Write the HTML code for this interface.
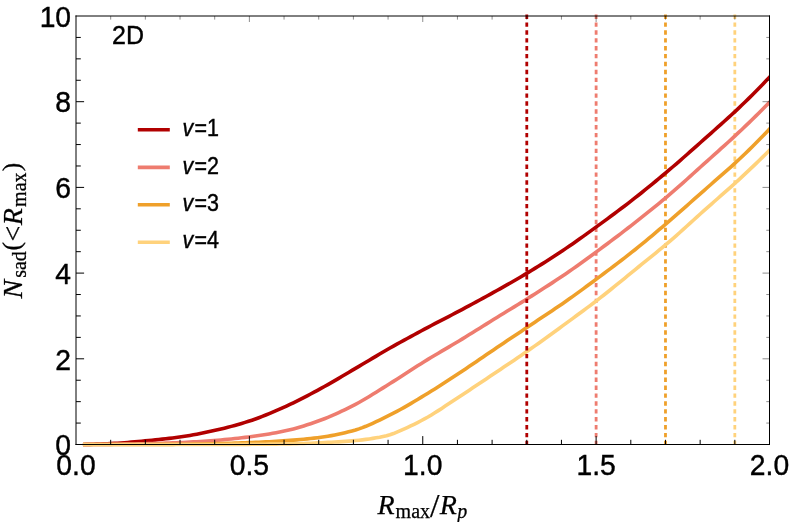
<!DOCTYPE html>
<html><head><meta charset="utf-8"><title>N_sad 2D</title>
<style>
html,body{margin:0;padding:0;background:#fff;}
body{width:789px;height:522px;overflow:hidden;}
svg{display:block;will-change:transform;}
.sans{font-family:"Liberation Sans",sans-serif;fill:#000;stroke:#000;stroke-width:0.4px;}
.serif{font-family:"Liberation Serif",serif;fill:#000;stroke:#000;stroke-width:0.25px;}
.it{font-style:italic;}
</style></head><body>
<svg width="789" height="522" viewBox="0 0 789 522">
<rect x="0" y="0" width="789" height="522" fill="#ffffff"/>
<g fill="none" stroke-width="2.8" stroke-dasharray="4.4 3.494">
<path d="M596.12,14.5 L596.12,444.50" stroke="#ee7c6f"/>
<path d="M665.48,14.5 L665.48,444.50" stroke="#efa02a"/>
<path d="M734.82,14.5 L734.82,444.50" stroke="#ffd27c"/>
</g>
<clipPath id="pa"><rect x="76.0" y="16.0" width="693.5" height="432.5"/></clipPath>
<g fill="none" stroke-width="3.6" stroke-linejoin="round" stroke-linecap="butt" clip-path="url(#pa)">
<path d="M82.94,444.47 L86.39,444.41 L89.84,444.33 L93.29,444.24 L96.74,444.13 L100.19,444.00 L103.64,443.86 L107.09,443.72 L110.54,443.56 L113.99,443.39 L117.44,443.19 L120.89,442.96 L124.34,442.70 L127.79,442.43 L131.24,442.14 L134.69,441.83 L138.14,441.52 L141.59,441.20 L145.04,440.89 L148.49,440.57 L151.94,440.23 L155.39,439.89 L158.84,439.53 L162.29,439.16 L165.74,438.78 L169.19,438.37 L172.64,437.94 L176.09,437.50 L179.54,437.03 L182.99,436.53 L186.44,435.99 L189.89,435.41 L193.34,434.80 L196.79,434.16 L200.24,433.50 L203.69,432.80 L207.14,432.09 L210.59,431.35 L214.04,430.59 L217.49,429.81 L220.94,429.01 L224.39,428.16 L227.84,427.29 L231.29,426.38 L234.74,425.43 L238.19,424.45 L241.64,423.44 L245.09,422.38 L248.54,421.30 L251.99,420.17 L255.44,418.97 L258.89,417.71 L262.34,416.39 L265.79,415.03 L269.24,413.61 L272.69,412.16 L276.14,410.67 L279.59,409.16 L283.04,407.63 L286.49,406.07 L289.94,404.47 L293.39,402.81 L296.84,401.12 L300.29,399.38 L303.74,397.61 L307.19,395.81 L310.64,393.99 L314.09,392.15 L317.54,390.30 L320.99,388.43 L324.44,386.53 L327.89,384.59 L331.34,382.61 L334.79,380.61 L338.24,378.58 L341.69,376.54 L345.14,374.50 L348.59,372.46 L352.04,370.42 L355.49,368.40 L358.94,366.36 L362.39,364.32 L365.84,362.26 L369.29,360.20 L372.74,358.14 L376.19,356.08 L379.64,354.04 L383.09,352.02 L386.54,350.01 L389.99,348.04 L393.44,346.09 L396.89,344.16 L400.34,342.25 L403.79,340.35 L407.24,338.46 L410.69,336.58 L414.14,334.72 L417.59,332.86 L421.04,331.01 L424.49,329.16 L427.94,327.33 L431.39,325.51 L434.84,323.71 L438.29,321.92 L441.74,320.13 L445.19,318.35 L448.64,316.56 L452.09,314.77 L455.54,312.96 L458.99,311.14 L462.44,309.31 L465.89,307.46 L469.34,305.62 L472.79,303.76 L476.24,301.90 L479.69,300.03 L483.14,298.15 L486.59,296.26 L490.04,294.35 L493.49,292.44 L496.94,290.51 L500.39,288.57 L503.84,286.62 L507.29,284.67 L510.74,282.70 L514.19,280.72 L517.64,278.72 L521.09,276.70 L524.54,274.66 L527.99,272.60 L531.44,270.51 L534.89,268.39 L538.34,266.26 L541.80,264.10 L545.25,261.92 L548.70,259.72 L552.15,257.49 L555.60,255.25 L559.05,252.98 L562.50,250.69 L565.95,248.37 L569.40,246.03 L572.85,243.65 L576.30,241.25 L579.75,238.82 L583.20,236.37 L586.65,233.90 L590.10,231.41 L593.55,228.91 L597.00,226.40 L600.45,223.89 L603.90,221.37 L607.35,218.83 L610.80,216.29 L614.25,213.73 L617.70,211.16 L621.15,208.56 L624.60,205.95 L628.05,203.31 L631.50,200.64 L634.95,197.95 L638.40,195.23 L641.85,192.49 L645.30,189.71 L648.75,186.91 L652.20,184.09 L655.65,181.25 L659.10,178.38 L662.55,175.50 L666.00,172.60 L669.45,169.69 L672.90,166.75 L676.35,163.78 L679.80,160.79 L683.25,157.77 L686.70,154.74 L690.15,151.69 L693.60,148.62 L697.05,145.55 L700.50,142.48 L703.95,139.41 L707.40,136.34 L710.85,133.28 L714.30,130.23 L717.75,127.17 L721.20,124.11 L724.65,121.02 L728.10,117.91 L731.55,114.77 L735.00,111.58 L738.45,108.35 L741.90,105.06 L745.35,101.72 L748.80,98.34 L752.25,94.91 L755.70,91.45 L759.15,87.94 L762.60,84.39 L766.05,80.81 L769.50,77.19 L776.44,69.92" stroke="#b10000"/>
<path d="M82.94,444.50 L86.39,444.49 L89.84,444.48 L93.29,444.46 L96.74,444.44 L100.19,444.42 L103.64,444.39 L107.09,444.36 L110.54,444.33 L113.99,444.30 L117.44,444.25 L120.89,444.21 L124.34,444.15 L127.79,444.09 L131.24,444.03 L134.69,443.96 L138.14,443.89 L141.59,443.81 L145.04,443.74 L148.49,443.65 L151.94,443.56 L155.39,443.47 L158.84,443.36 L162.29,443.25 L165.74,443.13 L169.19,443.01 L172.64,442.88 L176.09,442.74 L179.54,442.59 L182.99,442.44 L186.44,442.27 L189.89,442.09 L193.34,441.89 L196.79,441.68 L200.24,441.46 L203.69,441.23 L207.14,440.99 L210.59,440.74 L214.04,440.48 L217.49,440.21 L220.94,439.92 L224.39,439.61 L227.84,439.29 L231.29,438.94 L234.74,438.58 L238.19,438.21 L241.64,437.81 L245.09,437.41 L248.54,436.98 L251.99,436.54 L255.44,436.07 L258.89,435.59 L262.34,435.07 L265.79,434.53 L269.24,433.96 L272.69,433.35 L276.14,432.72 L279.59,432.05 L283.04,431.34 L286.49,430.59 L289.94,429.78 L293.39,428.89 L296.84,427.95 L300.29,426.96 L303.74,425.91 L307.19,424.81 L310.64,423.68 L314.09,422.51 L317.54,421.30 L320.99,420.06 L324.44,418.76 L327.89,417.38 L331.34,415.93 L334.79,414.41 L338.24,412.84 L341.69,411.22 L345.14,409.55 L348.59,407.83 L352.04,406.09 L355.49,404.32 L358.94,402.47 L362.39,400.53 L365.84,398.52 L369.29,396.46 L372.74,394.34 L376.19,392.20 L379.64,390.03 L383.09,387.86 L386.54,385.69 L389.99,383.54 L393.44,381.38 L396.89,379.20 L400.34,376.98 L403.79,374.75 L407.24,372.51 L410.69,370.28 L414.14,368.05 L417.59,365.83 L421.04,363.65 L424.49,361.49 L427.94,359.38 L431.39,357.29 L434.84,355.23 L438.29,353.19 L441.74,351.16 L445.19,349.13 L448.64,347.10 L452.09,345.06 L455.54,343.01 L458.99,340.94 L462.44,338.84 L465.89,336.72 L469.34,334.59 L472.79,332.46 L476.24,330.31 L479.69,328.16 L483.14,326.01 L486.59,323.86 L490.04,321.71 L493.49,319.57 L496.94,317.44 L500.39,315.31 L503.84,313.20 L507.29,311.08 L510.74,308.97 L514.19,306.86 L517.64,304.73 L521.09,302.60 L524.54,300.46 L527.99,298.30 L531.44,296.12 L534.89,293.93 L538.34,291.74 L541.80,289.55 L545.25,287.34 L548.70,285.12 L552.15,282.87 L555.60,280.61 L559.05,278.33 L562.50,276.01 L565.95,273.67 L569.40,271.29 L572.85,268.88 L576.30,266.44 L579.75,263.97 L583.20,261.49 L586.65,258.98 L590.10,256.46 L593.55,253.93 L597.00,251.39 L600.45,248.85 L603.90,246.29 L607.35,243.73 L610.80,241.15 L614.25,238.56 L617.70,235.95 L621.15,233.33 L624.60,230.69 L628.05,228.03 L631.50,225.35 L634.95,222.66 L638.40,219.94 L641.85,217.21 L645.30,214.46 L648.75,211.70 L652.20,208.92 L655.65,206.11 L659.10,203.28 L662.55,200.42 L666.00,197.54 L669.45,194.62 L672.90,191.67 L676.35,188.68 L679.80,185.64 L683.25,182.58 L686.70,179.49 L690.15,176.38 L693.60,173.26 L697.05,170.14 L700.50,167.02 L703.95,163.90 L707.40,160.81 L710.85,157.72 L714.30,154.63 L717.75,151.55 L721.20,148.46 L724.65,145.35 L728.10,142.23 L731.55,139.08 L735.00,135.91 L738.45,132.69 L741.90,129.44 L745.35,126.16 L748.80,122.84 L752.25,119.49 L755.70,116.12 L759.15,112.71 L762.60,109.28 L766.05,105.83 L769.50,102.34 L776.44,95.34" stroke="#ee7c6f"/>
<path d="M82.94,444.50 L86.39,444.50 L89.84,444.50 L93.29,444.50 L96.74,444.50 L100.19,444.50 L103.64,444.49 L107.09,444.49 L110.54,444.49 L113.99,444.49 L117.44,444.49 L120.89,444.48 L124.34,444.48 L127.79,444.48 L131.24,444.47 L134.69,444.47 L138.14,444.47 L141.59,444.46 L145.04,444.46 L148.49,444.45 L151.94,444.44 L155.39,444.43 L158.84,444.42 L162.29,444.40 L165.74,444.38 L169.19,444.36 L172.64,444.34 L176.09,444.31 L179.54,444.29 L182.99,444.26 L186.44,444.22 L189.89,444.18 L193.34,444.13 L196.79,444.08 L200.24,444.02 L203.69,443.95 L207.14,443.89 L210.59,443.82 L214.04,443.74 L217.49,443.67 L220.94,443.58 L224.39,443.48 L227.84,443.38 L231.29,443.27 L234.74,443.15 L238.19,443.03 L241.64,442.90 L245.09,442.77 L248.54,442.63 L251.99,442.49 L255.44,442.35 L258.89,442.20 L262.34,442.04 L265.79,441.87 L269.24,441.69 L272.69,441.51 L276.14,441.31 L279.59,441.10 L283.04,440.88 L286.49,440.65 L289.94,440.40 L293.39,440.13 L296.84,439.85 L300.29,439.55 L303.74,439.23 L307.19,438.88 L310.64,438.51 L314.09,438.12 L317.54,437.70 L320.99,437.26 L324.44,436.76 L327.89,436.21 L331.34,435.61 L334.79,434.95 L338.24,434.25 L341.69,433.49 L345.14,432.68 L348.59,431.82 L352.04,430.91 L355.49,429.96 L358.94,428.87 L362.39,427.65 L365.84,426.30 L369.29,424.84 L372.74,423.29 L376.19,421.68 L379.64,420.02 L383.09,418.32 L386.54,416.61 L389.99,414.91 L393.44,413.17 L396.89,411.36 L400.34,409.49 L403.79,407.57 L407.24,405.59 L410.69,403.58 L414.14,401.54 L417.59,399.47 L421.04,397.40 L424.49,395.32 L427.94,393.22 L431.39,391.09 L434.84,388.93 L438.29,386.74 L441.74,384.53 L445.19,382.29 L448.64,380.04 L452.09,377.78 L455.54,375.51 L458.99,373.23 L462.44,370.96 L465.89,368.65 L469.34,366.33 L472.79,363.99 L476.24,361.64 L479.69,359.29 L483.14,356.93 L486.59,354.57 L490.04,352.22 L493.49,349.89 L496.94,347.56 L500.39,345.24 L503.84,342.93 L507.29,340.62 L510.74,338.31 L514.19,336.00 L517.64,333.69 L521.09,331.38 L524.54,329.08 L527.99,326.76 L531.44,324.45 L534.89,322.15 L538.34,319.86 L541.80,317.57 L545.25,315.29 L548.70,312.99 L552.15,310.69 L555.60,308.36 L559.05,306.02 L562.50,303.65 L565.95,301.25 L569.40,298.81 L572.85,296.35 L576.30,293.87 L579.75,291.37 L583.20,288.85 L586.65,286.32 L590.10,283.77 L593.55,281.21 L597.00,278.64 L600.45,276.07 L603.90,273.50 L607.35,270.92 L610.80,268.33 L614.25,265.73 L617.70,263.12 L621.15,260.49 L624.60,257.84 L628.05,255.16 L631.50,252.45 L634.95,249.72 L638.40,246.94 L641.85,244.13 L645.30,241.29 L648.75,238.43 L652.20,235.54 L655.65,232.63 L659.10,229.70 L662.55,226.76 L666.00,223.81 L669.45,220.85 L672.90,217.89 L676.35,214.90 L679.80,211.88 L683.25,208.86 L686.70,205.82 L690.15,202.77 L693.60,199.71 L697.05,196.65 L700.50,193.59 L703.95,190.54 L707.40,187.50 L710.85,184.48 L714.30,181.47 L717.75,178.47 L721.20,175.46 L724.65,172.44 L728.10,169.39 L731.55,166.30 L735.00,163.17 L738.45,159.98 L741.90,156.74 L745.35,153.44 L748.80,150.10 L752.25,146.70 L755.70,143.27 L759.15,139.79 L762.60,136.27 L766.05,132.72 L769.50,129.12 L776.44,121.90" stroke="#efa02a"/>
<path d="M82.94,444.50 L86.39,444.50 L89.84,444.50 L93.29,444.50 L96.74,444.50 L100.19,444.50 L103.64,444.50 L107.09,444.50 L110.54,444.50 L113.99,444.50 L117.44,444.50 L120.89,444.50 L124.34,444.50 L127.79,444.50 L131.24,444.49 L134.69,444.49 L138.14,444.49 L141.59,444.49 L145.04,444.49 L148.49,444.49 L151.94,444.49 L155.39,444.49 L158.84,444.49 L162.29,444.49 L165.74,444.48 L169.19,444.48 L172.64,444.48 L176.09,444.48 L179.54,444.48 L182.99,444.48 L186.44,444.47 L189.89,444.47 L193.34,444.47 L196.79,444.47 L200.24,444.47 L203.69,444.46 L207.14,444.46 L210.59,444.46 L214.04,444.46 L217.49,444.45 L220.94,444.45 L224.39,444.44 L227.84,444.43 L231.29,444.42 L234.74,444.40 L238.19,444.39 L241.64,444.37 L245.09,444.35 L248.54,444.33 L251.99,444.31 L255.44,444.29 L258.89,444.27 L262.34,444.24 L265.79,444.21 L269.24,444.17 L272.69,444.14 L276.14,444.10 L279.59,444.05 L283.04,444.00 L286.49,443.94 L289.94,443.87 L293.39,443.79 L296.84,443.68 L300.29,443.57 L303.74,443.45 L307.19,443.32 L310.64,443.18 L314.09,443.04 L317.54,442.89 L320.99,442.74 L324.44,442.59 L327.89,442.42 L331.34,442.24 L334.79,442.05 L338.24,441.84 L341.69,441.62 L345.14,441.38 L348.59,441.13 L352.04,440.86 L355.49,440.57 L358.94,440.24 L362.39,439.85 L365.84,439.41 L369.29,438.93 L372.74,438.40 L376.19,437.82 L379.64,437.18 L383.09,436.45 L386.54,435.64 L389.99,434.73 L393.44,433.57 L396.89,432.16 L400.34,430.67 L403.79,429.16 L407.24,427.60 L410.69,425.97 L414.14,424.29 L417.59,422.55 L421.04,420.75 L424.49,418.90 L427.94,416.97 L431.39,414.93 L434.84,412.82 L438.29,410.63 L441.74,408.39 L445.19,406.11 L448.64,403.81 L452.09,401.50 L455.54,399.20 L458.99,396.93 L462.44,394.67 L465.89,392.41 L469.34,390.14 L472.79,387.85 L476.24,385.56 L479.69,383.26 L483.14,380.96 L486.59,378.65 L490.04,376.34 L493.49,374.02 L496.94,371.71 L500.39,369.40 L503.84,367.10 L507.29,364.79 L510.74,362.47 L514.19,360.15 L517.64,357.82 L521.09,355.47 L524.54,353.11 L527.99,350.73 L531.44,348.32 L534.89,345.89 L538.34,343.44 L541.80,340.97 L545.25,338.49 L548.70,335.99 L552.15,333.48 L555.60,330.97 L559.05,328.44 L562.50,325.92 L565.95,323.39 L569.40,320.86 L572.85,318.34 L576.30,315.81 L579.75,313.27 L583.20,310.72 L586.65,308.16 L590.10,305.57 L593.55,302.97 L597.00,300.34 L600.45,297.68 L603.90,294.98 L607.35,292.25 L610.80,289.49 L614.25,286.71 L617.70,283.91 L621.15,281.09 L624.60,278.27 L628.05,275.45 L631.50,272.62 L634.95,269.81 L638.40,267.01 L641.85,264.22 L645.30,261.44 L648.75,258.65 L652.20,255.86 L655.65,253.05 L659.10,250.22 L662.55,247.36 L666.00,244.47 L669.45,241.55 L672.90,238.58 L676.35,235.55 L679.80,232.49 L683.25,229.39 L686.70,226.27 L690.15,223.14 L693.60,220.00 L697.05,216.87 L700.50,213.75 L703.95,210.65 L707.40,207.58 L710.85,204.53 L714.30,201.50 L717.75,198.48 L721.20,195.46 L724.65,192.43 L728.10,189.39 L731.55,186.32 L735.00,183.22 L738.45,180.08 L741.90,176.89 L745.35,173.67 L748.80,170.42 L752.25,167.15 L755.70,163.84 L759.15,160.50 L762.60,157.14 L766.05,153.75 L769.50,150.33 L776.44,143.47" stroke="#ffd27c"/>
</g>
<path fill="none" stroke-width="2.8" stroke-dasharray="4.4 3.494" d="M526.78,14.5 L526.78,444.50" stroke="#b10000"/>
<g fill="none" stroke="#000" stroke-width="1">
<path d="M76.0,15.5 L76.0,445.0"/>
<path d="M75.5,16.0 L770.0,16.0"/>
<path d="M769.5,15.5 L769.5,445.0"/>
<path d="M75.5,444.5 L770.0,444.5"/>
</g>
<g fill="none" stroke="#000" stroke-width="1">
<path d="M110.68,444.5 L110.68,439.80"/>
<path d="M145.35,444.5 L145.35,439.80"/>
<path d="M180.02,444.5 L180.02,439.80"/>
<path d="M214.70,444.5 L214.70,439.80"/>
<path d="M249.38,444.5 L249.38,436.10"/>
<path d="M284.05,444.5 L284.05,439.80"/>
<path d="M318.73,444.5 L318.73,439.80"/>
<path d="M353.40,444.5 L353.40,439.80"/>
<path d="M388.07,444.5 L388.07,439.80"/>
<path d="M422.75,444.5 L422.75,436.10"/>
<path d="M457.43,444.5 L457.43,439.80"/>
<path d="M492.10,444.5 L492.10,439.80"/>
<path d="M526.78,444.5 L526.78,439.80"/>
<path d="M561.45,444.5 L561.45,439.80"/>
<path d="M596.12,444.5 L596.12,436.10"/>
<path d="M630.80,444.5 L630.80,439.80"/>
<path d="M665.48,444.5 L665.48,439.80"/>
<path d="M700.15,444.5 L700.15,439.80"/>
<path d="M734.82,444.5 L734.82,439.80"/>
</g>
<g fill="none" stroke="#000" stroke-width="1">
<path d="M76.0,423.07 L80.80,423.07"/>
<path d="M76.0,401.65 L80.80,401.65"/>
<path d="M76.0,380.23 L80.80,380.23"/>
<path d="M76.0,358.80 L84.10,358.80"/>
<path d="M76.0,337.38 L80.80,337.38"/>
<path d="M76.0,315.95 L80.80,315.95"/>
<path d="M76.0,294.52 L80.80,294.52"/>
<path d="M76.0,273.10 L84.10,273.10"/>
<path d="M76.0,251.68 L80.80,251.68"/>
<path d="M76.0,230.25 L80.80,230.25"/>
<path d="M76.0,208.82 L80.80,208.82"/>
<path d="M76.0,187.40 L84.10,187.40"/>
<path d="M76.0,165.98 L80.80,165.98"/>
<path d="M76.0,144.55 L80.80,144.55"/>
<path d="M76.0,123.12 L80.80,123.12"/>
<path d="M76.0,101.70 L84.10,101.70"/>
<path d="M76.0,80.27 L80.80,80.27"/>
<path d="M76.0,58.85 L80.80,58.85"/>
<path d="M76.0,37.43 L80.80,37.43"/>
</g>
<g fill="none" stroke="#000" stroke-width="0.45">
<path d="M110.68,16.0 L110.68,19.60"/>
<path d="M145.35,16.0 L145.35,19.60"/>
<path d="M180.02,16.0 L180.02,19.60"/>
<path d="M214.70,16.0 L214.70,19.60"/>
<path d="M249.38,16.0 L249.38,22.00"/>
<path d="M284.05,16.0 L284.05,19.60"/>
<path d="M318.73,16.0 L318.73,19.60"/>
<path d="M353.40,16.0 L353.40,19.60"/>
<path d="M388.07,16.0 L388.07,19.60"/>
<path d="M422.75,16.0 L422.75,22.00"/>
<path d="M457.43,16.0 L457.43,19.60"/>
<path d="M492.10,16.0 L492.10,19.60"/>
<path d="M526.78,16.0 L526.78,19.60"/>
<path d="M561.45,16.0 L561.45,19.60"/>
<path d="M596.12,16.0 L596.12,22.00"/>
<path d="M630.80,16.0 L630.80,19.60"/>
<path d="M665.48,16.0 L665.48,19.60"/>
<path d="M700.15,16.0 L700.15,19.60"/>
<path d="M734.82,16.0 L734.82,19.60"/>
<path d="M769.5,423.07 L766.30,423.07"/>
<path d="M769.5,401.65 L766.30,401.65"/>
<path d="M769.5,380.23 L766.30,380.23"/>
<path d="M769.5,358.80 L762.50,358.80"/>
<path d="M769.5,337.38 L766.30,337.38"/>
<path d="M769.5,315.95 L766.30,315.95"/>
<path d="M769.5,294.52 L766.30,294.52"/>
<path d="M769.5,273.10 L762.50,273.10"/>
<path d="M769.5,251.68 L766.30,251.68"/>
<path d="M769.5,230.25 L766.30,230.25"/>
<path d="M769.5,208.82 L766.30,208.82"/>
<path d="M769.5,187.40 L762.50,187.40"/>
<path d="M769.5,165.98 L766.30,165.98"/>
<path d="M769.5,144.55 L766.30,144.55"/>
<path d="M769.5,123.12 L766.30,123.12"/>
<path d="M769.5,101.70 L762.50,101.70"/>
<path d="M769.5,80.27 L766.30,80.27"/>
<path d="M769.5,58.85 L766.30,58.85"/>
<path d="M769.5,37.43 L766.30,37.43"/>
</g>
<text class="sans" transform="translate(71.10,455.25) scale(1,1.045)" font-size="28.3" text-anchor="end">0</text>
<text class="sans" transform="translate(71.10,369.55) scale(1,1.045)" font-size="28.3" text-anchor="end">2</text>
<text class="sans" transform="translate(71.10,283.85) scale(1,1.045)" font-size="28.3" text-anchor="end">4</text>
<text class="sans" transform="translate(71.10,198.15) scale(1,1.045)" font-size="28.3" text-anchor="end">6</text>
<text class="sans" transform="translate(71.10,112.45) scale(1,1.045)" font-size="28.3" text-anchor="end">8</text>
<text class="sans" transform="translate(71.10,26.75) scale(1,1.045)" font-size="28.3" text-anchor="end">10</text>
<text class="sans" transform="translate(76.00,475.00) scale(1,1.045)" font-size="28.3" text-anchor="middle">0.0</text>
<text class="sans" transform="translate(249.38,475.00) scale(1,1.045)" font-size="28.3" text-anchor="middle">0.5</text>
<text class="sans" transform="translate(422.75,475.00) scale(1,1.045)" font-size="28.3" text-anchor="middle">1.0</text>
<text class="sans" transform="translate(596.12,475.00) scale(1,1.045)" font-size="28.3" text-anchor="middle">1.5</text>
<text class="sans" transform="translate(769.50,475.00) scale(1,1.045)" font-size="28.3" text-anchor="middle">2.0</text>
<text class="sans" transform="translate(112.00,43.90) scale(1,1.03)" font-size="25" text-anchor="start">2D</text>
<g fill="none" stroke-width="3.6">
<path d="M137.8,129.8 L169.8,129.8" stroke="#b10000"/>
<path d="M137.8,167.4 L169.8,167.4" stroke="#ee7c6f"/>
<path d="M137.8,204.8 L169.8,204.8" stroke="#efa02a"/>
<path d="M137.8,242.2 L169.8,242.2" stroke="#ffd27c"/>
</g>
<text class="sans" transform="translate(182.60,136.00) scale(1,1.07)" font-size="21.5" text-anchor="start"><tspan class="it">v</tspan><tspan dx="1.2">=1</tspan></text>
<text class="sans" transform="translate(182.60,173.60) scale(1,1.07)" font-size="21.5" text-anchor="start"><tspan class="it">v</tspan><tspan dx="1.2">=2</tspan></text>
<text class="sans" transform="translate(182.60,211.00) scale(1,1.07)" font-size="21.5" text-anchor="start"><tspan class="it">v</tspan><tspan dx="1.2">=3</tspan></text>
<text class="sans" transform="translate(182.60,248.40) scale(1,1.07)" font-size="21.5" text-anchor="start"><tspan class="it">v</tspan><tspan dx="1.2">=4</tspan></text>
<text class="serif it" transform="translate(377.60,514.00)" font-size="28" text-anchor="start">R</text>
<text class="serif" transform="translate(395.60,517.50)" font-size="20" text-anchor="start">max</text>
<text class="serif" transform="translate(430.00,516.60)" font-size="34" text-anchor="start">/</text>
<text class="serif it" transform="translate(439.80,514.00)" font-size="28" text-anchor="start">R</text>
<text class="serif it" transform="translate(457.20,517.50)" font-size="20" text-anchor="start">p</text>
<text class="serif it" transform="translate(22.00,298.40) rotate(-90)" font-size="28">N</text>
<text class="serif" transform="translate(26.40,277.80) rotate(-90)" font-size="20">sad</text>
<text class="serif" transform="translate(20.30,250.50) rotate(-90)" font-size="25.5">(</text>
<text class="serif" transform="translate(22.00,241.40) rotate(-90)" font-size="28">&lt;</text>
<text class="serif it" transform="translate(22.00,225.20) rotate(-90)" font-size="28">R</text>
<text class="serif" transform="translate(26.20,206.90) rotate(-90)" font-size="20">max</text>
<text class="serif" transform="translate(20.30,171.20) rotate(-90)" font-size="25.5">)</text>
</svg></body></html>
